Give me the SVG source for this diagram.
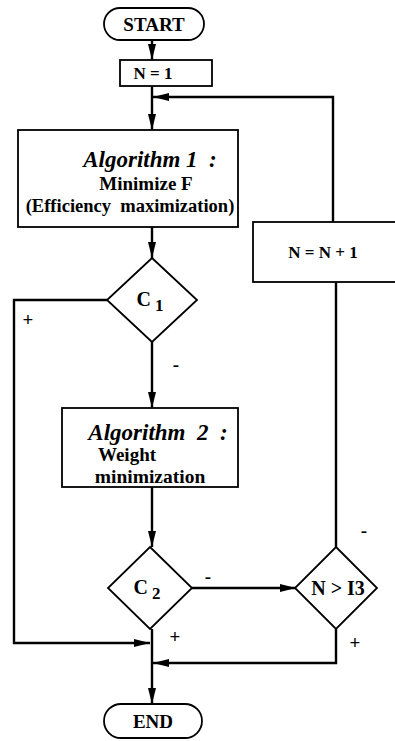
<svg xmlns="http://www.w3.org/2000/svg" width="395" height="741" viewBox="0 0 395 741">
  <style>
    .shape { fill: #fff; stroke: #000; stroke-width: 1.8; }
    .wire { fill: none; stroke: #000; stroke-width: 2.4; }
    .t { font-family: "Liberation Serif", "Times New Roman", serif; font-weight: bold; fill: #000; text-anchor: middle; }
    .it { font-style: italic; }
  </style>
  <defs>
    <marker id="arrow" viewBox="0 0 16 8" refX="16" refY="4" markerWidth="16" markerHeight="8" markerUnits="userSpaceOnUse" orient="auto">
      <path d="M0,0 L16,4 L0,8 Z" fill="#000"/>
    </marker>
  </defs>

  <rect width="395" height="741" fill="#fff"/>

  <!-- connectors and branch signs -->
  <g id="connectors">
    <line class="wire" x1="152" y1="40" x2="152" y2="60" marker-end="url(#arrow)"/>
    <line class="wire" x1="152" y1="86" x2="152" y2="130" marker-end="url(#arrow)"/>
    <polyline class="wire" points="333,222 333,97 153,97" marker-end="url(#arrow)"/>
    <line class="wire" x1="152" y1="227" x2="152" y2="258" marker-end="url(#arrow)"/>
    <line class="wire" x1="152" y1="342" x2="152" y2="408" marker-end="url(#arrow)"/>
    <polyline class="wire" points="107,300 14,300 14,643 150,643" marker-end="url(#arrow)"/>
    <line class="wire" x1="152" y1="487" x2="152" y2="547" marker-end="url(#arrow)"/>
    <line class="wire" x1="192" y1="588" x2="296" y2="588" marker-end="url(#arrow)"/>
    <line class="wire" x1="336" y1="547" x2="336" y2="282"/>
    <polyline class="wire" points="336,629 336,663 153,663" marker-end="url(#arrow)"/>
    <line class="wire" x1="152" y1="629" x2="152" y2="704" marker-end="url(#arrow)"/>
    <g class="t" font-size="19">
      <text x="28" y="326">+</text>
      <text x="176" y="371">-</text>
      <text x="208" y="583">-</text>
      <text x="364" y="537">-</text>
      <text x="175" y="643">+</text>
      <text x="355" y="649">+</text>
    </g>
  </g>

  <g id="start">
    <rect class="shape" x="104" y="8" width="100" height="32" rx="16"/>
    <text class="t" x="154" y="31" font-size="19">START</text>
  </g>

  <g id="init">
    <rect class="shape" x="120" y="60" width="92" height="26"/>
    <text class="t" x="153" y="79" font-size="17">N = 1</text>
  </g>

  <g id="algorithm1">
    <rect class="shape" x="18" y="130" width="220" height="97"/>
    <text class="t it" x="150" y="167" font-size="23">Algorithm 1&#160; :</text>
    <text class="t" x="146" y="190" font-size="19">Minimize F</text>
    <text class="t" x="130" y="212" font-size="18.5">(Efficiency&#160; maximization)</text>
  </g>

  <g id="c1">
    <polygon class="shape" points="152,258 197,300 152,342 107,300"/>
    <text class="t" x="150" y="306" font-size="20">C<tspan font-size="17" dx="4" dy="5">1</tspan></text>
  </g>

  <g id="increment">
    <rect class="shape" x="253" y="222" width="145" height="60"/>
    <text class="t" x="323" y="258" font-size="17">N = N + 1</text>
  </g>

  <g id="algorithm2">
    <rect class="shape" x="62" y="408" width="176" height="79"/>
    <text class="t it" x="158" y="440" font-size="23">Algorithm&#160; 2&#160; :</text>
    <text class="t" x="127" y="461" font-size="19">Weight</text>
    <text class="t" x="150" y="483" font-size="19.5">minimization</text>
  </g>

  <g id="c2">
    <polygon class="shape" points="150,547 192,588 150,629 108,588"/>
    <text class="t" x="147" y="594" font-size="20">C<tspan font-size="17" dx="4" dy="5">2</tspan></text>
  </g>

  <g id="limit">
    <polygon class="shape" points="336,547 377,588 336,629 295,588"/>
    <text class="t" x="338" y="595" font-size="20">N &gt; I3</text>
  </g>

  <g id="end">
    <rect class="shape" x="104" y="704" width="98" height="34" rx="17"/>
    <text class="t" x="153" y="728" font-size="19">END</text>
  </g>
</svg>
